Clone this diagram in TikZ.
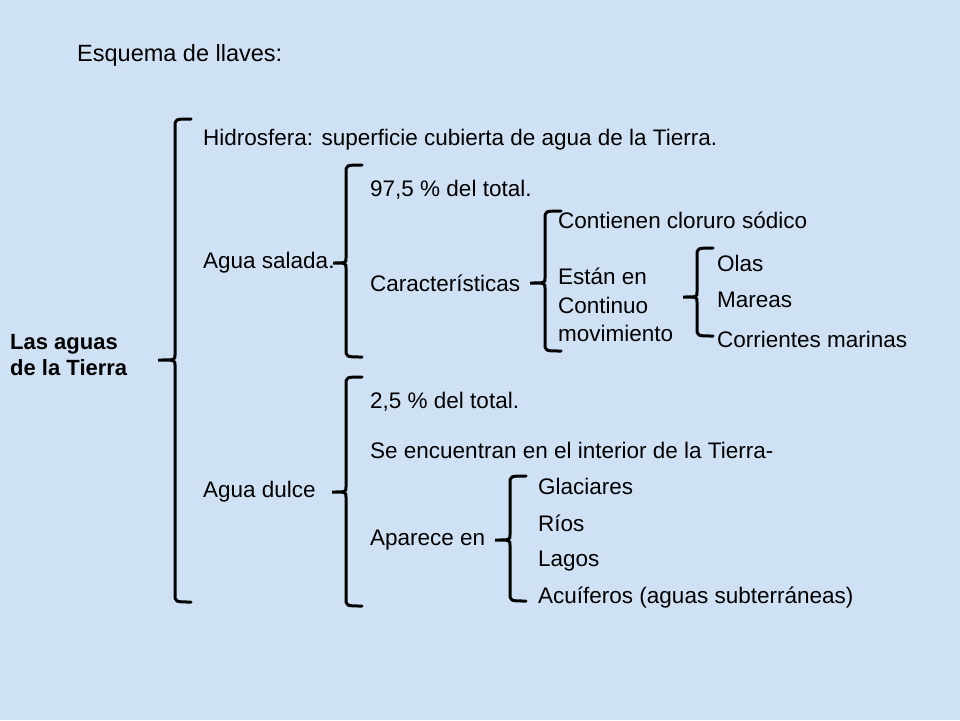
\documentclass[tikz,border=0pt]{standalone}
\usepackage{fontspec}
\setmainfont{Liberation Sans}
\definecolor{bgblue}{HTML}{CFE1F4}
\begin{document}
\begin{tikzpicture}[x=1pt,y=-1pt,
  t/.style={anchor=west,inner sep=0pt,font=\fontsize{22.5}{28.5}\selectfont,align=left},
  br/.style={line width=3pt,line cap=round}]
\fill[bgblue] (0,0) rectangle (960,720);
\useasboundingbox (0,0) rectangle (960,720);
\newcommand\llave[5]{%
 \draw[br] (#1+16,#2) .. controls (#1,#2) .. (#1,#2+8) -- (#1,#4-5)
   .. controls (#1,#4) .. (#5,#4) .. controls (#1,#4) .. (#1,#4+5)
   -- (#1,#3-8) .. controls (#1,#3) .. (#1+16,#3);}
\node[t,font=\fontsize{23.5}{28}\selectfont] (title) at (77,55) {Esquema de llaves:};
\node[t,font=\bfseries\fontsize{22}{26}\selectfont] (root) at (10,355) {Las aguas\\de la Tierra};
\llave{175}{119}{602}{360}{158}
\node[t] (hid) at (203,140) {Hidrosfera: superficie cubierta de agua de la Tierra.};
\node[t] (sal) at (203,263) {Agua salada.};
\llave{346}{165}{357}{263}{333}
\node[t] (p97) at (370,190) {97,5 \% del total.};
\node[t] (car) at (370,283) {Características};
\llave{545}{211}{351}{283}{530}
\node[t] (clo) at (558,220) {Contienen cloruro sódico};
\node[t] (mov) at (558,305) {Están en\\Continuo\\movimiento};
\llave{697}{248}{336}{297}{683}
\node[t] (olas) at (717,263) {Olas};
\node[t] (mar) at (717,300) {Mareas};
\node[t] (cor) at (717,339) {Corrientes marinas};
\node[t] (dul) at (203,492) {Agua dulce};
\llave{346}{377}{606}{492}{332}
\node[t] (p25) at (370,402) {2,5 \% del total.};
\node[t] (int) at (370,450) {Se encuentran en el interior de la Tierra-};
\node[t] (apa) at (370,540) {Aparece en};
\llave{510}{476}{601}{540}{495}
\node[t] (gla) at (538,486) {Glaciares};
\node[t] (rio) at (538,523) {Ríos};
\node[t] (lag) at (538,561) {Lagos};
\node[t] (acu) at (538,598) {Acuíferos (aguas subterráneas)};
\end{tikzpicture}
\end{document}
